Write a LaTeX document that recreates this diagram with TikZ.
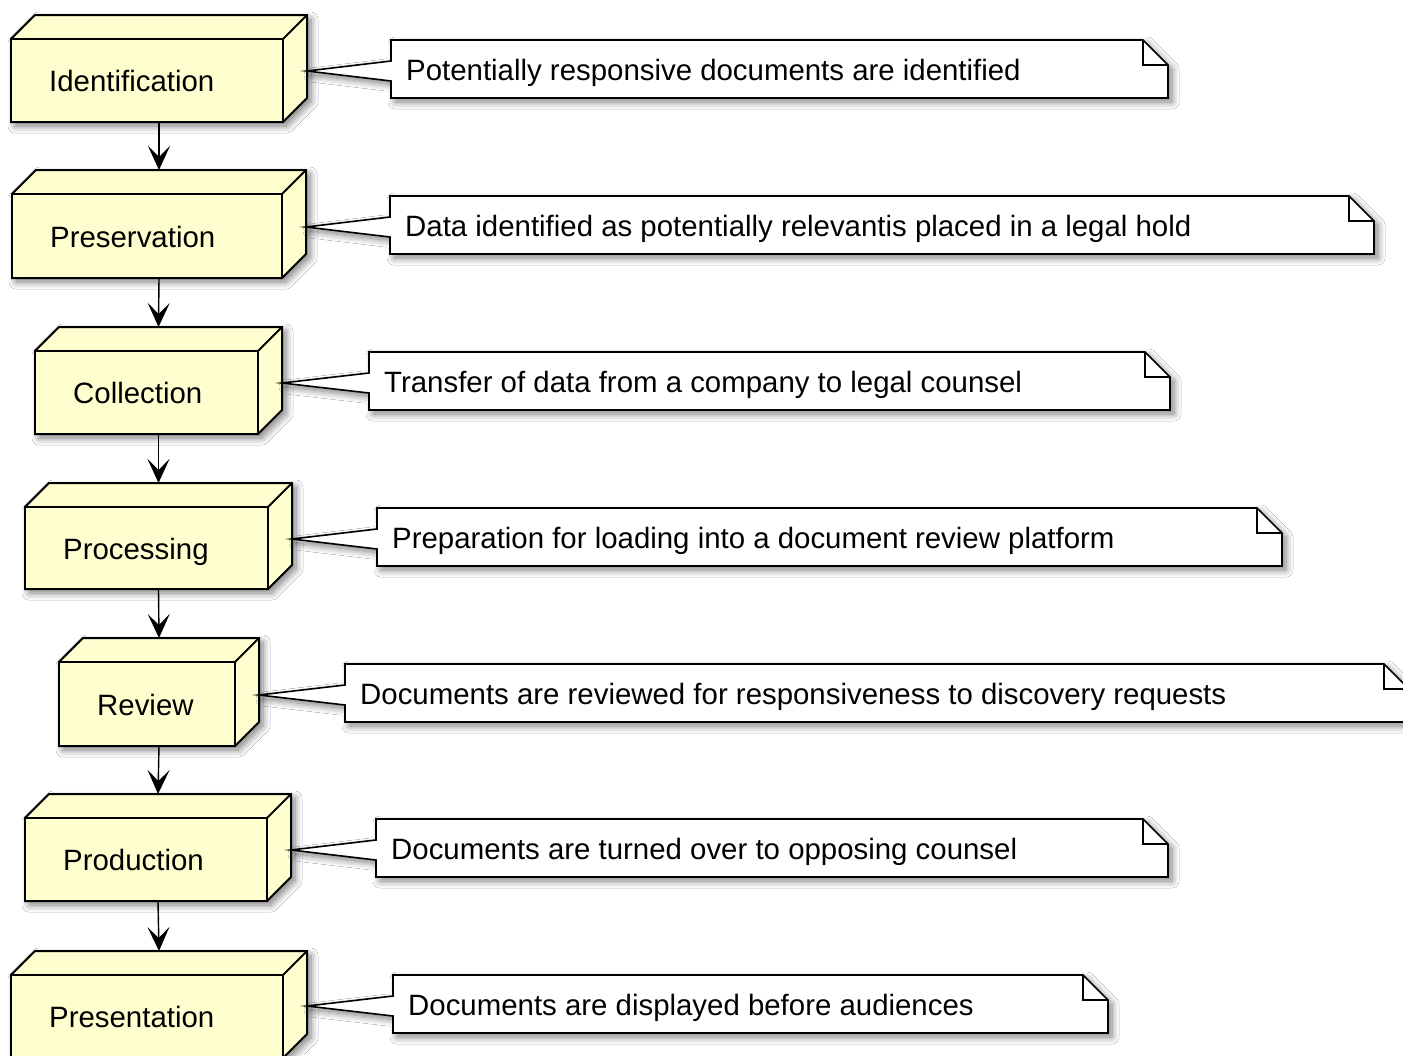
\documentclass[tikz,border=0pt]{standalone}
\usepackage{fontspec}
\setmainfont{Liberation Sans}
\usetikzlibrary{calc,arrows.meta,shadows.blur}
\definecolor{nodefill}{HTML}{FEFECE}
\tikzset{
  softshadow/.style={blur shadow={shadow xshift=4pt, shadow yshift=-4pt,
      shadow blur radius=7pt, shadow blur steps=10, shadow opacity=50}},
  solid3d/.style={draw=black, line width=2pt, fill=nodefill, line join=miter, softshadow},
  face/.style={draw=black, line width=2pt, fill=nodefill, inner sep=0pt, outer sep=0pt},
  edge3d/.style={draw=black, line width=2pt},
  lbl/.style={font=\fontsize{29.4}{34}\selectfont, inner sep=0pt, anchor=base west},
  notebody/.style={inner sep=0pt, outer sep=0pt},
  noteshape/.style={draw=black, line width=1.6pt, fill=white, line join=miter, softshadow},
  noteline/.style={draw=black, line width=1.6pt, line join=miter},
  flow/.style={draw=black, line width=1.4pt, -{Stealth[length=24pt,width=22pt,inset=11pt]}},
}
% stage box: name, left, right, top, bottom (front face), label
\newcommand\stage[6]{%
  \path[solid3d] (#2,#5) -- (#2,#4) -- ++(24,-24) -- (#3+24,#4-24) -- (#3+24,#5-24) -- (#3,#5) -- cycle;
  \node[face, minimum width={#3pt-#2pt}, minimum height={#5pt-#4pt}] (#1) at ({(#2+#3)/2},{(#4+#5)/2}) {};
  \draw[edge3d] (#1.north east) -- ++(24,-24);
  \node[lbl] (#1-t) at (#2+38,{(#4+#5)/2+11}) {#6};
}
% note with pointer: name, stage box, left, right, top, text
\newcommand\remark[6]{%
  \node[notebody, minimum width={#4pt-#3pt}, minimum height=58pt, anchor=north west] (#1) at (#3,#5) {};
  \path[noteshape] (#1.north west) -- ($(#1.north east)+(-25,0)$) -- ($(#1.north east)+(0,25)$)
     -- (#1.south east) -- (#1.south west) -- ($(#1.north west)+(0,41)$)
     -- ($(#2.east |- #1.north)+(24,31)$) -- ($(#1.north west)+(0,21)$) -- cycle;
  \draw[noteline] ($(#1.north east)+(-25,0)$) -- ++(0,25) -- ++(25,0);
  \node[lbl] (#1-t) at ($(#1.north west)+(15,40)$) {#6};
}
\begin{document}
\begin{tikzpicture}[x=1pt,y=-1pt]
  \clip (0,0) rectangle (1403,1055);
  \fill[white] (0,0) rectangle (1403,1055);

  \stage{ident}{11}{283}{39}{122}{Identification}
  \stage{preserv}{12}{282}{194}{278}{Preservation}
  \stage{collect}{35}{258}{351}{434}{Collection}
  \stage{process}{25}{268}{507}{589}{Processing}
  \stage{review}{59}{235}{662}{746}{Review}
  \stage{produce}{25}{267}{818}{901}{Production}
  \stage{present}{11}{283}{975}{1058}{Presentation}

  \draw[flow] ($(ident.south)+(12,0)$) -- ($(preserv.north)+(12,-24)$);
  \draw[flow] ($(preserv.south)+(12,0)$) -- ($(collect.north)+(12,-24)$);
  \draw[flow] ($(collect.south)+(12,0)$) -- ($(process.north)+(12,-24)$);
  \draw[flow] ($(process.south)+(12,0)$) -- ($(review.north)+(12,-24)$);
  \draw[flow] ($(review.south)+(12,0)$) -- ($(produce.north)+(12,-24)$);
  \draw[flow] ($(produce.south)+(12,0)$) -- ($(present.north)+(12,-24)$);

  \remark{n1}{ident}{391}{1168}{40}{Potentially responsive documents are identified}
  \remark{n2}{preserv}{390}{1374}{196}{Data identified as potentially relevantis placed in a legal hold}
  \remark{n3}{collect}{369}{1170}{352}{Transfer of data from a company to legal counsel}
  \remark{n4}{process}{377}{1282}{508}{Preparation for loading into a document review platform}
  \remark{n5}{review}{345}{1409}{664}{Documents are reviewed for responsiveness to discovery requests}
  \remark{n6}{produce}{376}{1168}{819}{Documents are turned over to opposing counsel}
  \remark{n7}{present}{393}{1108}{975}{Documents are displayed before audiences}
\end{tikzpicture}
\end{document}
